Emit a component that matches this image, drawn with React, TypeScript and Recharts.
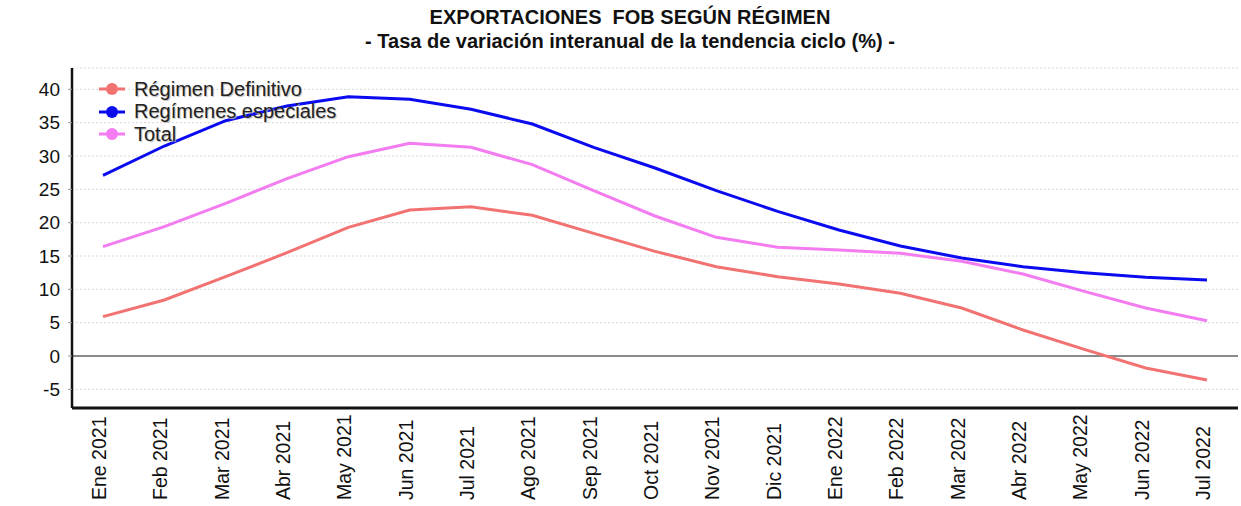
import { LineChart, Line, XAxis, YAxis, CartesianGrid, ReferenceLine, Legend } from 'recharts';

const months = ['Ene 2021', 'Feb 2021', 'Mar 2021', 'Abr 2021', 'May 2021', 'Jun 2021', 'Jul 2021', 'Ago 2021', 'Sep 2021', 'Oct 2021', 'Nov 2021', 'Dic 2021', 'Ene 2022', 'Feb 2022', 'Mar 2022', 'Abr 2022', 'May 2022', 'Jun 2022', 'Jul 2022'];
const definitivo = [5.9, 8.4, 11.9, 15.5, 19.3, 21.9, 22.4, 21.1, 18.4, 15.7, 13.4, 11.9, 10.8, 9.4, 7.2, 3.9, 1.0, -1.8, -3.6];
const especiales = [27.1, 31.5, 35.3, 37.5, 38.9, 38.5, 37.0, 34.8, 31.3, 28.2, 24.8, 21.7, 18.9, 16.5, 14.7, 13.4, 12.5, 11.8, 11.4];
const total = [16.4, 19.4, 22.9, 26.6, 29.9, 31.9, 31.3, 28.7, 24.8, 21.0, 17.8, 16.3, 15.9, 15.4, 14.2, 12.3, 9.7, 7.2, 5.3];
const yTicks = [-5, 0, 5, 10, 15, 20, 25, 30, 35, 40];

const series = [
  { key: 'definitivo', name: 'Régimen Definitivo', color: '#f27272' },
  { key: 'especiales', name: 'Regímenes especiales', color: '#0b0bf0' },
  { key: 'total', name: 'Total', color: '#f27cf0' },
];

const data = months.map((m, i) => ({
  name: m,
  definitivo: definitivo[i],
  especiales: especiales[i],
  total: total[i],
}));

const font = '"Liberation Sans", Arial, sans-serif';

// month labels read bottom-up, all starting from the same row near the bottom
function MonthTick({ x, y, payload }: any) {
  const bx = x + 3;
  const by = y + 84;
  return (
    <text
      x={bx}
      y={by}
      transform={`rotate(-90 ${bx} ${by})`}
      textAnchor="start"
      fontSize={19.5}
      fontFamily={font}
      fill="#111"
    >
      {payload.value}
    </text>
  );
}

function LegendBox() {
  return (
    <div style={{ fontFamily: font, fontSize: 20, color: '#222' }}>
      {series.map((s) => (
        <div key={s.key} style={{ display: 'flex', alignItems: 'center', height: 22.5 }}>
          <svg width={28} height={14} style={{ marginRight: 8 }}>
            <line x1={1} y1={7} x2={27} y2={7} stroke={s.color} strokeWidth={3} />
            <circle cx={14} cy={7} r={6} fill={s.color} />
          </svg>
          <span style={{ textShadow: '1px 1px 1px #bbb' }}>{s.name}</span>
        </div>
      ))}
    </div>
  );
}

export default function App() {
  return (
    <div style={{ position: 'absolute', left: 0, top: 0, width: 1241, height: 506, background: '#fff' }}>
      <div style={{ position: 'absolute', top: 5, left: 0, width: 1260, textAlign: 'center', fontFamily: font, fontWeight: 'bold', fontSize: 20, lineHeight: '24px', color: '#111' }}>
        <div>EXPORTACIONES&nbsp; FOB SEGÚN RÉGIMEN</div>
        <div>- Tasa de variación interanual de la tendencia ciclo (%) -</div>
      </div>
      <div style={{ position: 'absolute', left: 0, top: 0 }}>
        <LineChart width={1241} height={506} data={data} margin={{ top: 68, right: 3, left: 0, bottom: 0 }}>
          <CartesianGrid vertical={false} strokeDasharray="2 2" stroke="#d8d8d8" />
          <XAxis
            dataKey="name"
            interval={0}
            height={98}
            padding={{ left: 31, right: 31 }}
            axisLine={{ stroke: '#111', strokeWidth: 3 }}
            tickLine={false}
            tick={<MonthTick />}
          />
          <YAxis
            width={72}
            domain={[-7.8, 43.2]}
            ticks={yTicks}
            interval={0}
            allowDataOverflow
            axisLine={{ stroke: '#111', strokeWidth: 2.5 }}
            tickLine={{ stroke: '#999' }}
            tickSize={4}
            tickMargin={8}
            tick={{ fontSize: 19, fontFamily: font, fill: '#111' }}
          />
          <ReferenceLine y={0} stroke="#8a8a8a" strokeWidth={2} />
          <Legend
            layout="vertical"
            align="center"
            verticalAlign="middle"
            content={<LegendBox />}
            wrapperStyle={{ position: 'absolute', top: 78, left: 98, width: 320 }}
          />
          {series.map((s) => (
            <Line
              key={s.key}
              dataKey={s.key}
              name={s.name}
              stroke={s.color}
              strokeWidth={3}
              dot={false}
              type="linear"
              isAnimationActive={false}
            />
          ))}
        </LineChart>
      </div>
    </div>
  );
}
